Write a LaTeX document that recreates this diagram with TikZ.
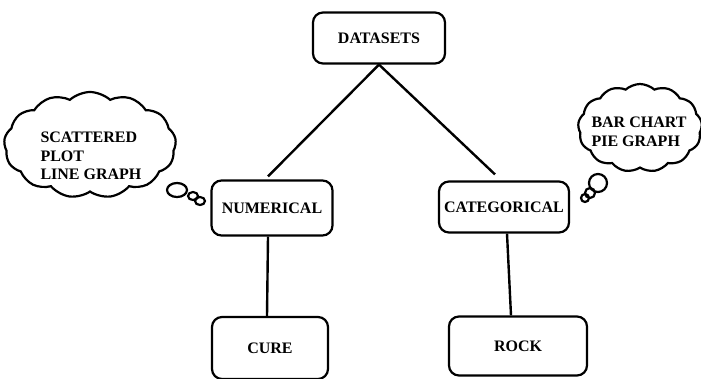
\documentclass[tikz,border=0pt]{standalone}
\usepackage{fontspec}
\setmainfont{Liberation Serif}
\usetikzlibrary{shapes.symbols}

\begin{document}
\begin{tikzpicture}[x=1pt,y=-1pt,
        line width=2.2pt,
        box/.style={draw,rounded corners=10pt,font=\fontsize{16}{18}\selectfont\bfseries},
        thought/.style={draw,cloud,cloud puffs=13,cloud puff arc=85,cloud ignores aspect,inner sep=0pt},
        thoughttext/.style={align=left,font=\fontsize{16}{18.5}\selectfont\bfseries},
        link/.style={line width=2.4pt}
    ]
        \useasboundingbox (0,0) rectangle (701,378);
        \node[box,minimum width=132pt,minimum height=51pt] (datasets) at (379,38) {DATASETS};
        \node[box,minimum width=121pt,minimum height=55pt] (numerical) at (272,208) {NUMERICAL};
        \node[box,minimum width=130pt,minimum height=51pt] (categorical) at (504,207) {CATEGORICAL};
        \node[box,minimum width=116pt,minimum height=62pt] (cure) at (270,348) {CURE};
        \node[box,minimum width=138pt,minimum height=59pt] (rock) at (518,346) {ROCK};

        \draw[link] (datasets.south) -- ([xshift=-4pt,yshift=3pt]numerical.north);
        \draw[link] (datasets.south) -- ([xshift=-9pt,yshift=6pt]categorical.north);
        \draw[link] ([xshift=-4pt]numerical.south) -- ([xshift=-3pt]cure.north);
        \draw[link] ([xshift=3pt]categorical.south) -- ([xshift=-7pt]rock.north);

        % thought clouds
        \node[thought,minimum width=172pt,minimum height=106pt] (numcloud) at (90,145) {};
        \node[thoughttext] (numtext) at (91,156) {SCATTERED\\PLOT\\LINE GRAPH};
        \node[thought,minimum width=124pt,minimum height=88pt] (catcloud) at (640,128) {};
        \node[thoughttext] (cattext) at (639,132) {BAR CHART\\PIE GRAPH};
        \draw (177,190) ellipse (10 and 7);
        \draw (193,196) ellipse (5 and 4);
        \draw (200,201) ellipse (5 and 4);
        \draw (598,183) circle (9);
        \draw (590,193) circle (5);
        \draw (585,198) circle (4);
    \end{tikzpicture}
\end{document}
